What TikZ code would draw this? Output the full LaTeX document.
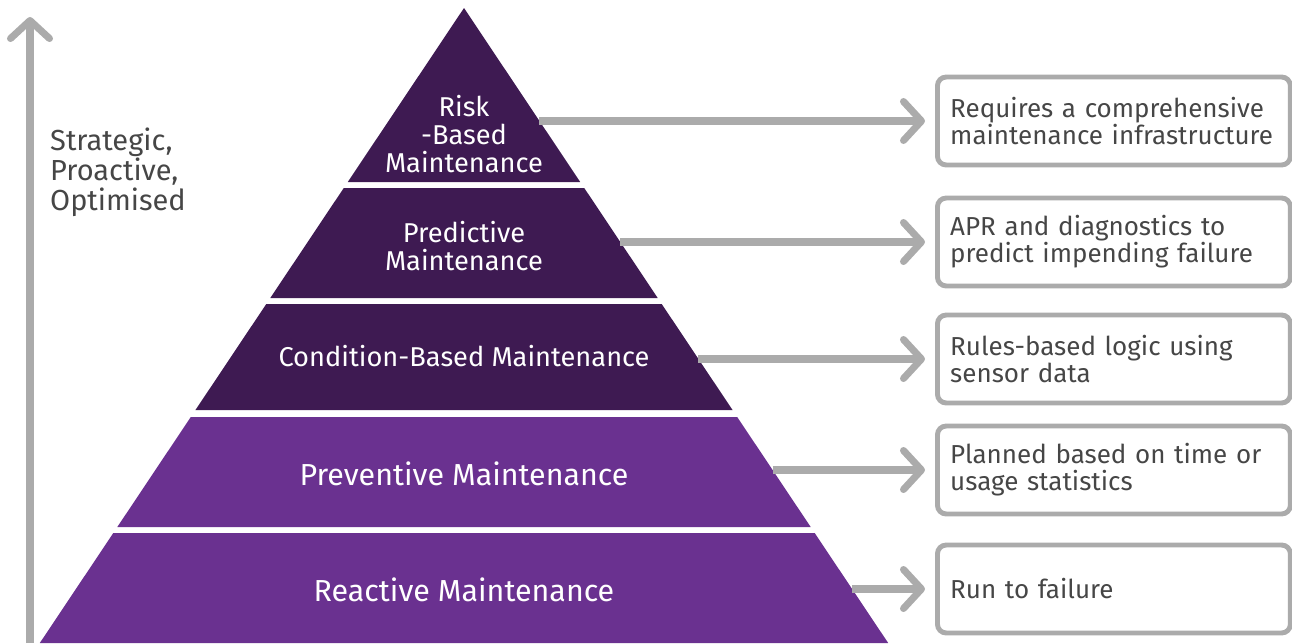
\documentclass[tikz,border=0pt]{standalone}
\usepackage{fontspec}
\setmainfont{Fira Sans}
\usepackage{tikz}
\usetikzlibrary{arrows.meta,calc}
\definecolor{deep}{HTML}{3E1A52}
\definecolor{plum}{HTML}{6A3190}
\definecolor{rail}{HTML}{ABABAB}
\definecolor{ink}{HTML}{464646}

\begin{document}
\begin{tikzpicture}[x=0.02cm,y=-0.02cm,
  lvl/.style={text=white,align=center,font=\fontsize{15.5}{15.8}\selectfont},
  big/.style={text=white,align=center,font=\fontsize{17.3}{20}\selectfont},
  note/.style={draw=rail,line width=2.8pt,rounded corners=5pt,anchor=west,
    minimum height=1.76cm,text width=6.55cm,inner xsep=0.255cm,align=left,
    text=ink,font=\fontsize{14.8}{15.5}\selectfont},
  link/.style={draw=rail,line width=4pt,-{Straight Barb[length=0.36cm,width=0.78cm,round]}}]
\useasboundingbox (0,0) rectangle (1292,643);
\foreach \t/\b/\c in {8/182/deep,188/298/deep,304/410/deep,417/527/plum,533/643/plum}
  \fill [\c] ({464-0.668*(\t-8)},\t) -- ({464+0.668*(\t-8)},\t)
    -- ({464+0.668*(\b-8)},\b) -- ({464-0.668*(\b-8)},\b) -- cycle;
\node (risk) at (464,134) [lvl] {Risk\\-Based\\Maintenance};
\node (pred) at (464,246) [lvl] {Predictive\\Maintenance};
\node (cond) at (464,356) [lvl] {Condition-Based Maintenance};
\node (prev) at (464,474) [big] {Preventive Maintenance};
\node (reac) at (464,590) [big] {Reactive Maintenance};
\node (b1) at (935,121) [note] {Requires a comprehensive\\maintenance infrastructure};
\node (b2) at (935,242) [note] {APR and diagnostics to\\predict impending failure};
\node (b3) at (935,359) [note] {Rules-based logic using\\sensor data};
\node (b4) at (935,470) [note] {Planned based on time or\\usage statistics};
\node (b5) at (935,589) [note] {Run to failure};
\coordinate (r1) at ({464+0.668*(121-8)},121);
\coordinate (r2) at ({464+0.668*(242-8)},242);
\coordinate (r3) at ({464+0.668*(359-8)},359);
\coordinate (r4) at ({464+0.668*(470-8)},470);
\coordinate (r5) at ({464+0.668*(589-8)},589);
\draw [link,shorten >=0.2cm] (r1) -- (b1.west);
\draw [link,shorten >=0.2cm] (r2) -- (b2.west);
\draw [link,shorten >=0.2cm] (r3) -- (b3.west);
\draw [link,shorten >=0.2cm] (r4) -- (b4.west);
\draw [link,shorten >=0.2cm] (r5) -- (b5.west);
\coordinate (foot) at (30,643);
\coordinate (peak) at (30,17);
\draw [link] (foot) -- (peak);
\node (axis) at (44,172) [anchor=west,align=left,text=ink,font=\fontsize{16.5}{15.5}\selectfont] {Strategic,\\Proactive,\\Optimised};
\end{tikzpicture}
\end{document}
